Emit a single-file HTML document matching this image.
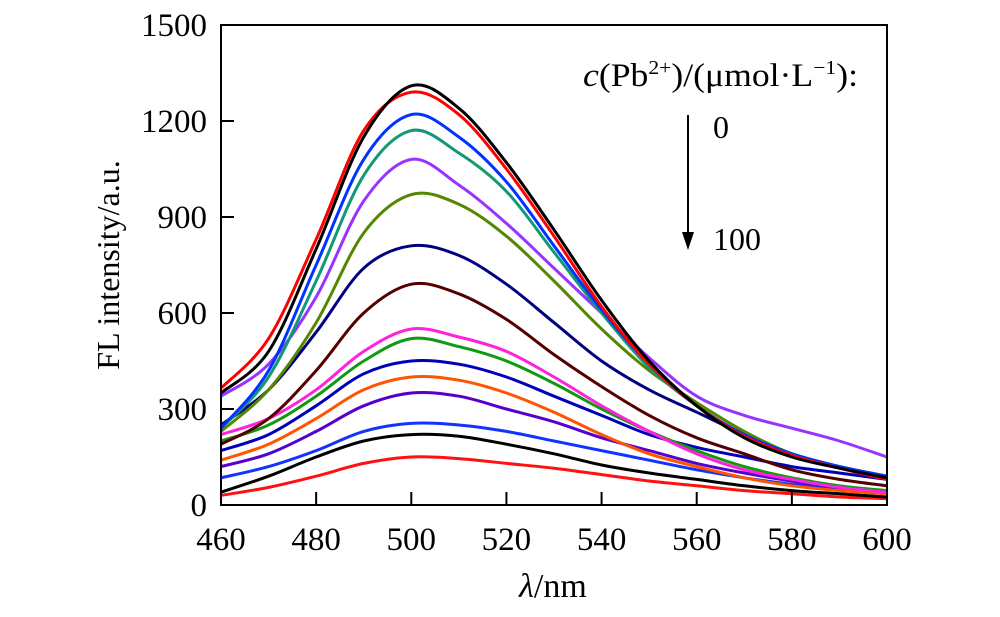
<!DOCTYPE html>
<html><head><meta charset="utf-8"><style>
body{margin:0;background:#fff;}
svg{display:block;font-family:"Liberation Serif",serif;}
</style></head><body>
<svg id="chart" width="1000" height="617">
<g id="curves"></g>
<g id="axes"></g>
<text x="583" y="86" font-size="33" textLength="275" lengthAdjust="spacingAndGlyphs"><tspan font-style="italic">c</tspan>(Pb<tspan font-size="20" dy="-12">2+</tspan><tspan dy="12">)/(μmol·L</tspan><tspan font-size="20" dy="-12">−1</tspan><tspan dy="12">):</tspan></text>
<line x1="688" y1="115" x2="688" y2="235" stroke="#000" stroke-width="2"/>
<polygon points="682,232 694,232 688,250" fill="#000"/>
<text x="713" y="138" font-size="32">0</text>
<text x="713" y="250" font-size="32">100</text>
<text x="553" y="597" font-size="34" text-anchor="middle"><tspan font-style="italic">λ</tspan>/nm</text>
<text transform="translate(119,265) rotate(-90)" font-size="32" text-anchor="middle">FL intensity/a.u.</text>
</svg>
<script>
const wavelengths=[460,470,480,490,500,510,520,530,540,550,560,570,580,590,600];
const colors=["#000000","#ff0000","#0033ff","#119977","#9933ff","#558800","#000080","#550000","#ff22dd","#119911","#0000bb","#ff5500","#5500cc","#1133ff","#000000","#ff1111"];
const s0=[350,480,800,1150,1310,1240,1070,860,640,450,310,210,150,115,85];
const s1=[365,520,830,1170,1290,1220,1050,840,620,440,310,215,155,115,80];
const s2=[240,420,750,1080,1220,1150,1010,810,610,440,310,220,160,120,90];
const s3=[240,400,700,1030,1170,1100,980,790,600,430,310,220,160,120,90];
const s4=[340,440,650,950,1080,1000,880,740,600,460,340,280,240,200,150];
const s5=[230,360,570,850,970,940,840,700,550,420,320,230,160,120,90];
const s6=[250,360,540,740,810,780,690,570,450,360,290,220,160,120,90];
const s7=[190,270,420,600,690,660,580,470,370,280,210,160,110,80,60];
const s8=[220,270,360,480,550,525,480,400,310,230,160,110,80,55,40];
const s9=[200,250,340,450,520,495,450,380,300,230,170,120,85,60,45];
const s10=[170,220,310,410,450,440,400,340,280,220,180,150,120,100,80];
const s11=[140,190,270,360,400,390,350,290,220,160,120,85,60,45,35];
const s12=[120,160,230,310,350,340,300,260,210,170,130,100,75,55,45];
const s13=[85,120,170,230,255,250,230,200,170,140,110,85,65,50,40];
const s14=[40,90,150,200,220,215,190,160,125,100,80,60,45,35,25];
const s15=[30,55,90,130,150,145,130,115,95,75,60,45,35,25,20];
const series=[s0,s1,s2,s3,s4,s5,s6,s7,s8,s9,s10,s11,s12,s13,s14,s15];
const xTicks=[460,480,500,520,540,560,580,600];
const yTicks=[0,300,600,900,1200,1500];
const X0=221,X1=887,Y0=505,Y1=25;
const xs=v=>X0+(v-460)/(140)*(X1-X0);
const ys=v=>Y0-v/1500*(Y0-Y1);
const NS="http://www.w3.org/2000/svg";
const cg=document.getElementById('curves');
series.slice().reverse().forEach((s,ri)=>{
  const i=series.length-1-ri;
  const p=wavelengths.map((w,k)=>[xs(w),ys(s[k])]);
  let d="M"+p[0][0]+","+p[0][1];
  for(let k=0;k<p.length-1;k++){
    const a=p[Math.max(k-1,0)],b=p[k],c=p[k+1],e=p[Math.min(k+2,p.length-1)];
    d+=" C"+(b[0]+(c[0]-a[0])/6)+","+(b[1]+(c[1]-a[1])/6)+" "+(c[0]-(e[0]-b[0])/6)+","+(c[1]-(e[1]-b[1])/6)+" "+c[0]+","+c[1];
  }
  const path=document.createElementNS(NS,'path');
  path.setAttribute('d',d);path.setAttribute('fill','none');
  path.setAttribute('stroke',colors[i]);path.setAttribute('stroke-width','3');
  
  
  cg.appendChild(path);
});
const ag=document.getElementById('axes');
const frame=document.createElementNS(NS,'rect');
frame.setAttribute('x',X0);frame.setAttribute('y',Y1);frame.setAttribute('width',X1-X0);frame.setAttribute('height',Y0-Y1);
frame.setAttribute('fill','none');frame.setAttribute('stroke','#000');frame.setAttribute('stroke-width','2');


ag.appendChild(frame);
xTicks.forEach(v=>{
  const l=document.createElementNS(NS,'line');
  l.setAttribute('x1',xs(v));l.setAttribute('x2',xs(v));l.setAttribute('y1',Y0);l.setAttribute('y2',Y0-13);
  l.setAttribute('stroke','#000');l.setAttribute('stroke-width','2');
  
  
  ag.appendChild(l);
  const t=document.createElementNS(NS,'text');
  t.setAttribute('x',xs(v));t.setAttribute('y',Y0+45);t.setAttribute('font-size','33');t.setAttribute('text-anchor','middle');
  t.textContent=v;
  
  
  ag.appendChild(t);
});
yTicks.forEach(v=>{
  const l=document.createElementNS(NS,'line');
  l.setAttribute('x1',X0);l.setAttribute('x2',X0+13);l.setAttribute('y1',ys(v));l.setAttribute('y2',ys(v));
  l.setAttribute('stroke','#000');l.setAttribute('stroke-width','2');
  
  
  ag.appendChild(l);
  const t=document.createElementNS(NS,'text');
  t.setAttribute('x',X0-14);t.setAttribute('y',ys(v)+11);t.setAttribute('font-size','33');t.setAttribute('text-anchor','end');
  t.textContent=v;
  
  
  ag.appendChild(t);
});
</script>
</body></html>
